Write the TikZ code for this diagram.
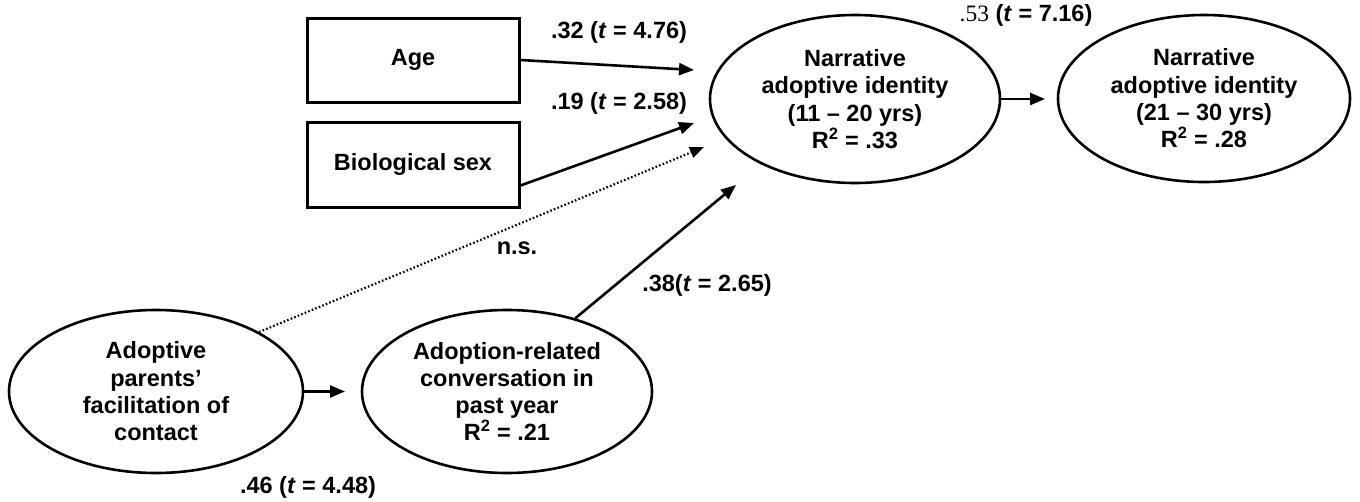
\documentclass[tikz,border=0pt]{standalone}
\usepackage{fontspec}
\setmainfont{Liberation Sans}
\newfontfamily\serifnum{Liberation Serif}
\usetikzlibrary{shapes.geometric,arrows.meta}
\begin{document}
\begin{tikzpicture}[x=1pt,y=-1pt,
  every node/.style={font=\fontsize{23.5}{27.3}\selectfont\bfseries, inner sep=0pt},
  varbox/.style={draw, line width=3pt, minimum width=212pt, minimum height=84pt},
  latent/.style={draw, ellipse, line width=2.6pt, align=center},
  path/.style={line width=2.6pt, -{Triangle[length=15pt,width=12pt]}},
  nspath/.style={line width=2.2pt, dash pattern=on 1.6pt off 2.2pt, -{Triangle[length=14pt,width=11pt]}},
  lbl/.style={anchor=center}]
\useasboundingbox (0,0) rectangle (1360,501);

% nodes
\node[varbox] (age) at (413,60) {Age};
\node[varbox, minimum height=85pt] (sex) at (413,164.5) {Biological sex};
\node[latent, minimum width=290pt, minimum height=168pt] (nai1) at (855,99)
  {Narrative\\adoptive identity\\(11 -- 20 yrs)\\R\textsuperscript{2} = .33};
\node[latent, minimum width=292pt, minimum height=167pt] (nai2) at (1204,98.5)
  {Narrative\\adoptive identity\\(21 -- 30 yrs)\\R\textsuperscript{2} = .28};
\node[latent, minimum width=294pt, minimum height=163pt] (fac) at (156,391.5)
  {Adoptive\\parents'\\facilitation of\\contact};
\node[latent, minimum width=290pt, minimum height=163pt] (conv) at (507,391.5)
  {Adoption-related\\conversation in\\past year\\R\textsuperscript{2} = .21};

% arrow tip coordinates
\coordinate (tAge) at (694,70);
\coordinate (tSex) at (694,123);
\coordinate (tNs) at (704,147);
\coordinate (tConv) at (736,185);
\coordinate (tFac) at (345,391.5);
\coordinate (tNai) at (1045,99);

% connectors
\draw[path] (age.east) -- (tAge);
\draw[path] ([yshift=-21pt]sex.east) -- (tSex);
\draw[nspath] (fac.30.6) -- (tNs);
\draw[path] (conv.47.2) -- (tConv);
\draw[path] (fac.east) -- (tFac);
\draw[path] (nai1.east) -- (tNai);

% labels
\node[lbl] (l32) at (619,32) {.32 (\textit{t} = 4.76)};
\node[lbl] (l19) at (619,103) {.19 (\textit{t} = 2.58)};
\node[lbl] (l53) at (1026,15) {{\serifnum\mdseries .53} (\textit{t} = 7.16)};
\node[lbl] (lns) at (517,248) {n.s.};
\node[lbl] (l38) at (707,285) {.38(\textit{t} = 2.65)};
\node[lbl] (l46) at (308,487) {.46 (\textit{t} = 4.48)};
\end{tikzpicture}
\end{document}
